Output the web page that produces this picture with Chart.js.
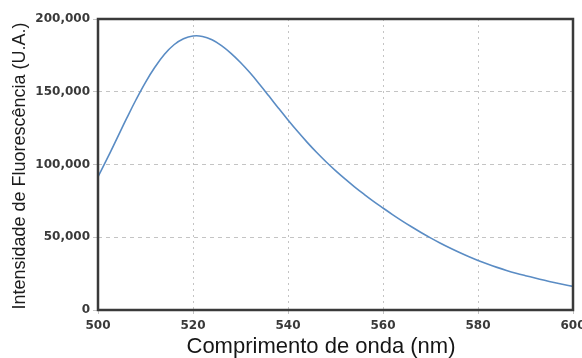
<!DOCTYPE html>
<html>
<head>
<meta charset="utf-8">
<script src="https://cdn.jsdelivr.net/npm/chart.js@4/dist/chart.umd.min.js"></script>
<style>
  html, body { margin: 0; padding: 0; background: #ffffff; }
  #wrap { width: 582px; height: 358px; position: relative; }
</style>
</head>
<body>
<div id="wrap"><canvas id="c" width="582" height="358"></canvas></div>
<script>
// Emission spectrum: wavelength (nm) and fluorescence intensity (a.u.)
const wavelengths = [500, 502, 504, 506, 508, 510, 512, 514, 516, 518, 520, 522, 524, 526, 528, 530,
  532, 534, 536, 538, 540, 542, 544, 546, 548, 550, 552, 554, 556, 558, 560, 562, 564, 566, 568,
  570, 572, 574, 576, 578, 580, 582, 584, 586, 588, 590, 592, 594, 596, 598, 600];
const intensity = [91500, 104500, 118000, 131500, 144500, 156500, 167000, 175800, 182300, 186400,
  188300, 188000, 185700, 181700, 176400, 170100, 163000, 155200, 147000, 138700, 130600, 122800,
  115400, 108400, 101900, 95800, 90100, 84700, 79600, 74700, 70100, 65600, 61300, 57200, 53300,
  49600, 46100, 42800, 39700, 36800, 34100, 31600, 29300, 27200, 25300, 23600, 22000, 20400,
  18900, 17500, 16200];
const xTicks = [500, 520, 540, 560, 580, 600];
const yTicks = [0, 50000, 100000, 150000, 200000];
const xTitle = 'Comprimento de onda (nm)';
const yTitle = 'Intensidade de Fluorescência (U.A.)';

const points = wavelengths.map((w, i) => ({ x: w, y: intensity[i] }));

// Dark frame around the plotting area plus the two axis titles
const framePlugin = {
  id: 'frame',
  afterDraw(chart) {
    const { ctx, chartArea: a } = chart;
    ctx.save();
    ctx.strokeStyle = '#3a3a3a';
    ctx.lineWidth = 2.5;
    ctx.strokeRect(a.left, a.top, a.right - a.left, a.bottom - a.top);

    ctx.fillStyle = '#161616';
    ctx.font = '22px "Liberation Sans", Arial, sans-serif';
    ctx.textAlign = 'center';
    ctx.textBaseline = 'alphabetic';
    ctx.fillText(xTitle, 321, 353);

    ctx.translate(20, 166);
    ctx.rotate(-Math.PI / 2);
    ctx.font = '18px "Liberation Sans", Arial, sans-serif';
    ctx.textBaseline = 'middle';
    ctx.fillStyle = '#1c1c1c';
    ctx.fillText(yTitle, 0, 0);
    ctx.restore();
  }
};

new Chart(document.getElementById('c'), {
  type: 'line',
  data: {
    datasets: [{
      data: points,
      borderColor: '#5a8cc4',
      borderWidth: 1.6,
      pointRadius: 0,
      tension: 0.4,
      fill: false
    }]
  },
  options: {
    responsive: false,
    animation: false,
    layout: { padding: { left: 0, right: 9, top: 19, bottom: 0 } },
    plugins: { legend: { display: false }, tooltip: { enabled: false } },
    scales: {
      x: {
        type: 'linear',
        min: 500,
        max: 600,
        afterBuildTicks(s) { s.ticks = xTicks.map(v => ({ value: v })); },
        afterFit(s) { s.height = 48; s.paddingLeft = 0; s.paddingRight = 0; },
        grid: { color: '#c4c4c4', lineWidth: 1, tickLength: 4, drawOnChartArea: true },
        border: { display: false, dash: [2, 4] },
        ticks: {
          padding: 5,
          color: '#3a3a3a',
          maxRotation: 0,
          font: { family: '"DejaVu Sans", sans-serif', size: 12, weight: 'bold' },
          callback: v => String(v)
        }
      },
      y: {
        min: 0,
        max: 200000,
        afterBuildTicks(s) { s.ticks = yTicks.map(v => ({ value: v })); },
        afterFit(s) { s.width = 98; s.paddingTop = 0; s.paddingBottom = 0; },
        grid: { color: '#c4c4c4', lineWidth: 1, tickLength: 5 },
        border: { display: false, dash: [4, 4] },
        ticks: {
          padding: 3,
          color: '#3a3a3a',
          font: { family: '"DejaVu Sans", sans-serif', size: 12, weight: 'bold' },
          callback: v => v.toLocaleString('en-US')
        }
      }
    }
  },
  plugins: [framePlugin]
});
</script>
</body>
</html>
